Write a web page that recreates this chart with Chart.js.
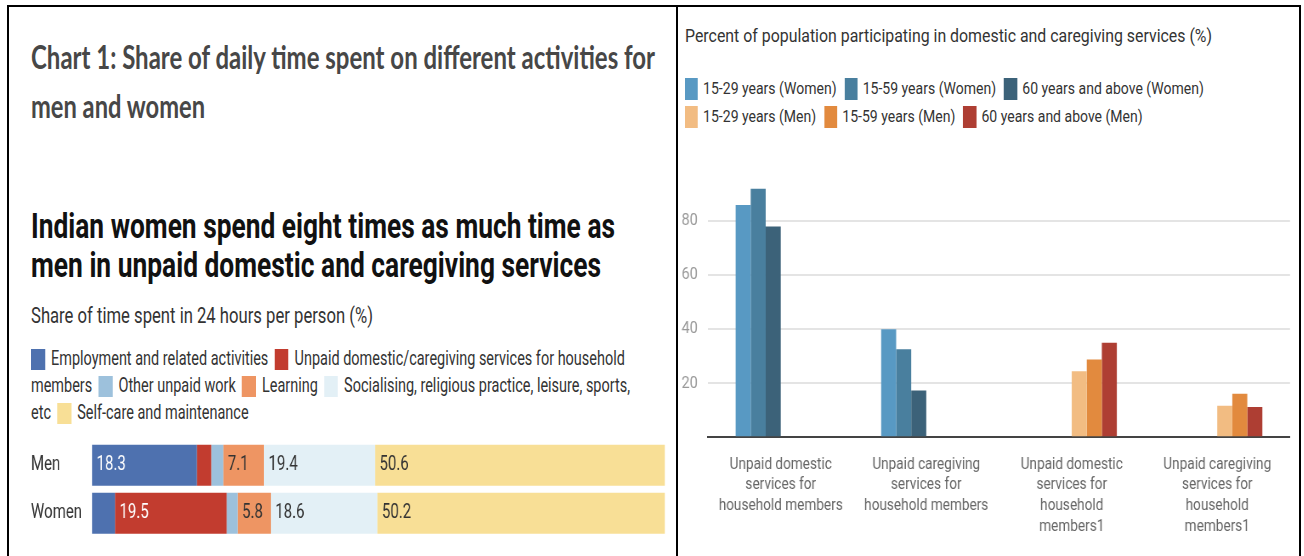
<!DOCTYPE html>
<html>
<head>
<meta charset="utf-8">
<script src="https://cdn.jsdelivr.net/npm/chart.js@4.4.1/dist/chart.umd.min.js"></script>
<style>
  html, body { margin:0; padding:0; background:#fff; width:1304px; height:556px; overflow:hidden; position:relative; font-family:Roboto, sans-serif; }
  .frame { position:absolute; box-sizing:border-box; border:2px solid #000; border-bottom:none; }
  .squish { position:absolute; transform-origin:0 0; }
  #legL { font-size:19.3px; line-height:27px; color:#333; }
  #legL .sw { display:inline-block; width:18.7px; height:21px; vertical-align:-5px; margin-right:8px; }
  #legL .it { margin-right:3.5px; }
  #legR { font-size:16.5px; line-height:28px; color:#333; white-space:nowrap; }
  #legR .sw { display:inline-block; width:15.3px; height:22px; vertical-align:-6px; margin-right:6px; }
  #legR .it { display:inline-block; margin-right:9.4px; }
  svg text { white-space:pre; }
</style>
</head>
<body>

<div class="frame" style="left:7px;top:5px;width:671px;height:560px"></div>
<div class="frame" style="left:678px;top:5px;width:623px;height:560px;border-left:none"></div>

<svg width="1304" height="556" style="position:absolute;left:0;top:0">
  <text x="31" y="68.5" textLength="624" lengthAdjust="spacingAndGlyphs" font-family="Lato" font-weight="700" font-size="33" fill="#474747">Chart 1: Share of daily time spent on different activities for</text>
  <text x="31" y="118" textLength="174" lengthAdjust="spacingAndGlyphs" font-family="Lato" font-weight="700" font-size="33" fill="#474747">men and women</text>
  <text x="31" y="238" textLength="584" lengthAdjust="spacingAndGlyphs" font-family="Roboto" font-weight="700" font-size="35" fill="#111">Indian women spend eight times as much time as</text>
  <text x="31" y="277" textLength="570" lengthAdjust="spacingAndGlyphs" font-family="Roboto" font-weight="700" font-size="35" fill="#111">men in unpaid domestic and caregiving services</text>
  <text x="31" y="323" textLength="342" lengthAdjust="spacingAndGlyphs" font-family="Roboto" font-size="22" fill="#333">Share of time spent in 24 hours per person (%)</text>
  <text x="685" y="41.7" textLength="527" lengthAdjust="spacingAndGlyphs" font-family="Roboto" font-size="18.8" fill="#333">Percent of population participating in domestic and caregiving services (%)</text>
</svg>

<div id="legL" class="squish" style="left:31px;top:345px;width:819px;transform:scaleX(0.75)"></div>
<div class="squish" style="left:9px;top:435px;width:891px;height:110px;transform:scaleX(0.75)"><canvas id="left"></canvas></div>

<div id="legR" class="squish" style="left:685px;top:75px;transform:scaleX(0.85)"></div>
<div class="squish" style="left:679px;top:150px;width:729px;height:406px;transform:scaleX(0.85)"><canvas id="right"></canvas></div>

<script>
// ── left: share of time (stacked) ──
const rows = ['Men', 'Women'];
const activities = [
  'Employment and related activities',
  'Unpaid domestic/caregiving services for household members',
  'Other unpaid work',
  'Learning',
  'Socialising, religious practice, leisure, sports, etc',
  'Self-care and maintenance',
];
const activityColors = ['#4e71af', '#c23c2f', '#9dc1dc', '#ee9563', '#e3f0f6', '#f8df96'];
const menShares   = [18.3, 2.5, 2.1, 7.1, 19.4, 50.6];
const womenShares = [4.0, 19.5, 1.9, 5.8, 18.6, 50.2];

// ── right: participation (grouped) ──
const categories = [
  ['Unpaid domestic', 'services for', 'household members'],
  ['Unpaid caregiving', 'services for', 'household members'],
  ['Unpaid domestic', 'services for', 'household', 'members1'],
  ['Unpaid caregiving', 'services for', 'household', 'members1'],
];
const groups = ['15-29 years (Women)', '15-59 years (Women)', '60 years and above (Women)',
                '15-29 years (Men)', '15-59 years (Men)', '60 years and above (Men)'];
const groupColors = ['#5899c3', '#497f9e', '#3c6279', '#f2bc82', '#e28a3e', '#ae3e33'];
const women1529 = [86, 40, null, null];
const women1559 = [92, 32.6, null, null];
const women60   = [78, 17.3, null, null];
const men1529   = [null, null, 24.4, 11.7];
const men1559   = [null, null, 28.8, 16.1];
const men60     = [null, null, 35, 11.2];
const groupValues = [women1529, women1559, women60, men1529, men1559, men60];

// legends
document.getElementById('legL').innerHTML = activities.map((a, i) => {
  const w = a.split(' ');
  return `<span style="white-space:nowrap"><span class="sw" style="background:${activityColors[i]}"></span>${w[0]}</span>` +
         `<span class="it">${w.length > 1 ? ' ' + w.slice(1).join(' ') : ''}</span>`;
}).join(' ');

const item = i => `<span class="it"><span class="sw" style="background:${groupColors[i]}"></span>${groups[i]}</span>`;
document.getElementById('legR').innerHTML =
  `<div>${[0,1,2].map(item).join('')}</div><div>${[3,4,5].map(item).join('')}</div>`;

const segLabels = {
  id: 'segLabels',
  afterDatasetsDraw(chart) {
    const ctx = chart.ctx;
    ctx.save();
    ctx.font = '20px Roboto';
    ctx.textBaseline = 'middle';
    ctx.textAlign = 'left';
    chart.data.datasets.forEach((ds, i) => {
      chart.getDatasetMeta(i).data.forEach((bar, j) => {
        const v = ds.data[j];
        if (v < 5) return;
        ctx.fillStyle = i < 2 ? '#fff' : '#333';
        ctx.fillText(v.toFixed(1), bar.base + 6, bar.y);
      });
    });
    ctx.restore();
  }
};

function draw() {
  new Chart(document.getElementById('left'), {
    type: 'bar',
    data: {
      labels: rows,
      datasets: activities.map((a, i) => ({
        label: a, data: [menShares[i], womenShares[i]], backgroundColor: activityColors[i],
        borderWidth: 0, barPercentage: 0.856, categoryPercentage: 1,
      })),
    },
    options: {
      indexAxis: 'y', responsive: true, maintainAspectRatio: false, animation: false,
      layout: { padding: { left: 29.3, right: 16.3, top: 6.4, bottom: 7.9 } },
      plugins: { legend: { display: false }, tooltip: { enabled: false } },
      scales: {
        x: { stacked: true, min: 0, max: 100, display: false },
        y: {
          stacked: true, grid: { display: false, drawTicks: false }, border: { display: false },
          ticks: { crossAlign: 'far', padding: 0, color: '#333', font: { family: 'Roboto', size: 20, lineHeight: 0.6 } },
          afterFit: s => { s.width = 110.7 - 29.3; },
        },
      },
    },
    plugins: [segLabels],
  });

  new Chart(document.getElementById('right'), {
    type: 'bar',
    data: {
      labels: categories,
      datasets: groups.map((g, i) => ({
        label: g, data: groupValues[i], backgroundColor: groupColors[i],
        borderWidth: 0, barPercentage: 1, categoryPercentage: 0.62,
      })),
    },
    options: {
      responsive: true, maintainAspectRatio: false, animation: false,
      layout: { padding: { left: 0, right: 10.2, top: 11, bottom: 0 } },
      plugins: { legend: { display: false }, tooltip: { enabled: false } },
      scales: {
        x: {
          grid: { display: false, drawTicks: false },
          border: { display: true, color: '#444', width: 2 },
          ticks: { padding: 17, maxRotation: 0, autoSkip: false, color: '#666',
                   font: { family: 'Roboto', size: 16, lineHeight: '20.7px' } },
          afterFit: s => { s.height = 118.7; },
        },
        y: {
          min: 0, max: 100,
          border: { display: false },
          grid: { drawTicks: false, lineWidth: 2,
                  color: c => (c.tick.value === 0 || c.tick.value === 100) ? 'rgba(0,0,0,0)' : '#e4e4e4' },
          ticks: { stepSize: 20, padding: 12, color: '#999', font: { family: 'Roboto', size: 17, lineHeight: 0.6 },
                   callback: v => (v === 0 || v === 100) ? '' : v },
          afterFit: s => { s.width = 34.1; },
        },
      },
    },
  });
}

Promise.all([document.fonts.load('20px Roboto'), document.fonts.load('700 33px Lato')])
  .then(draw, draw);
</script>
</body>
</html>
